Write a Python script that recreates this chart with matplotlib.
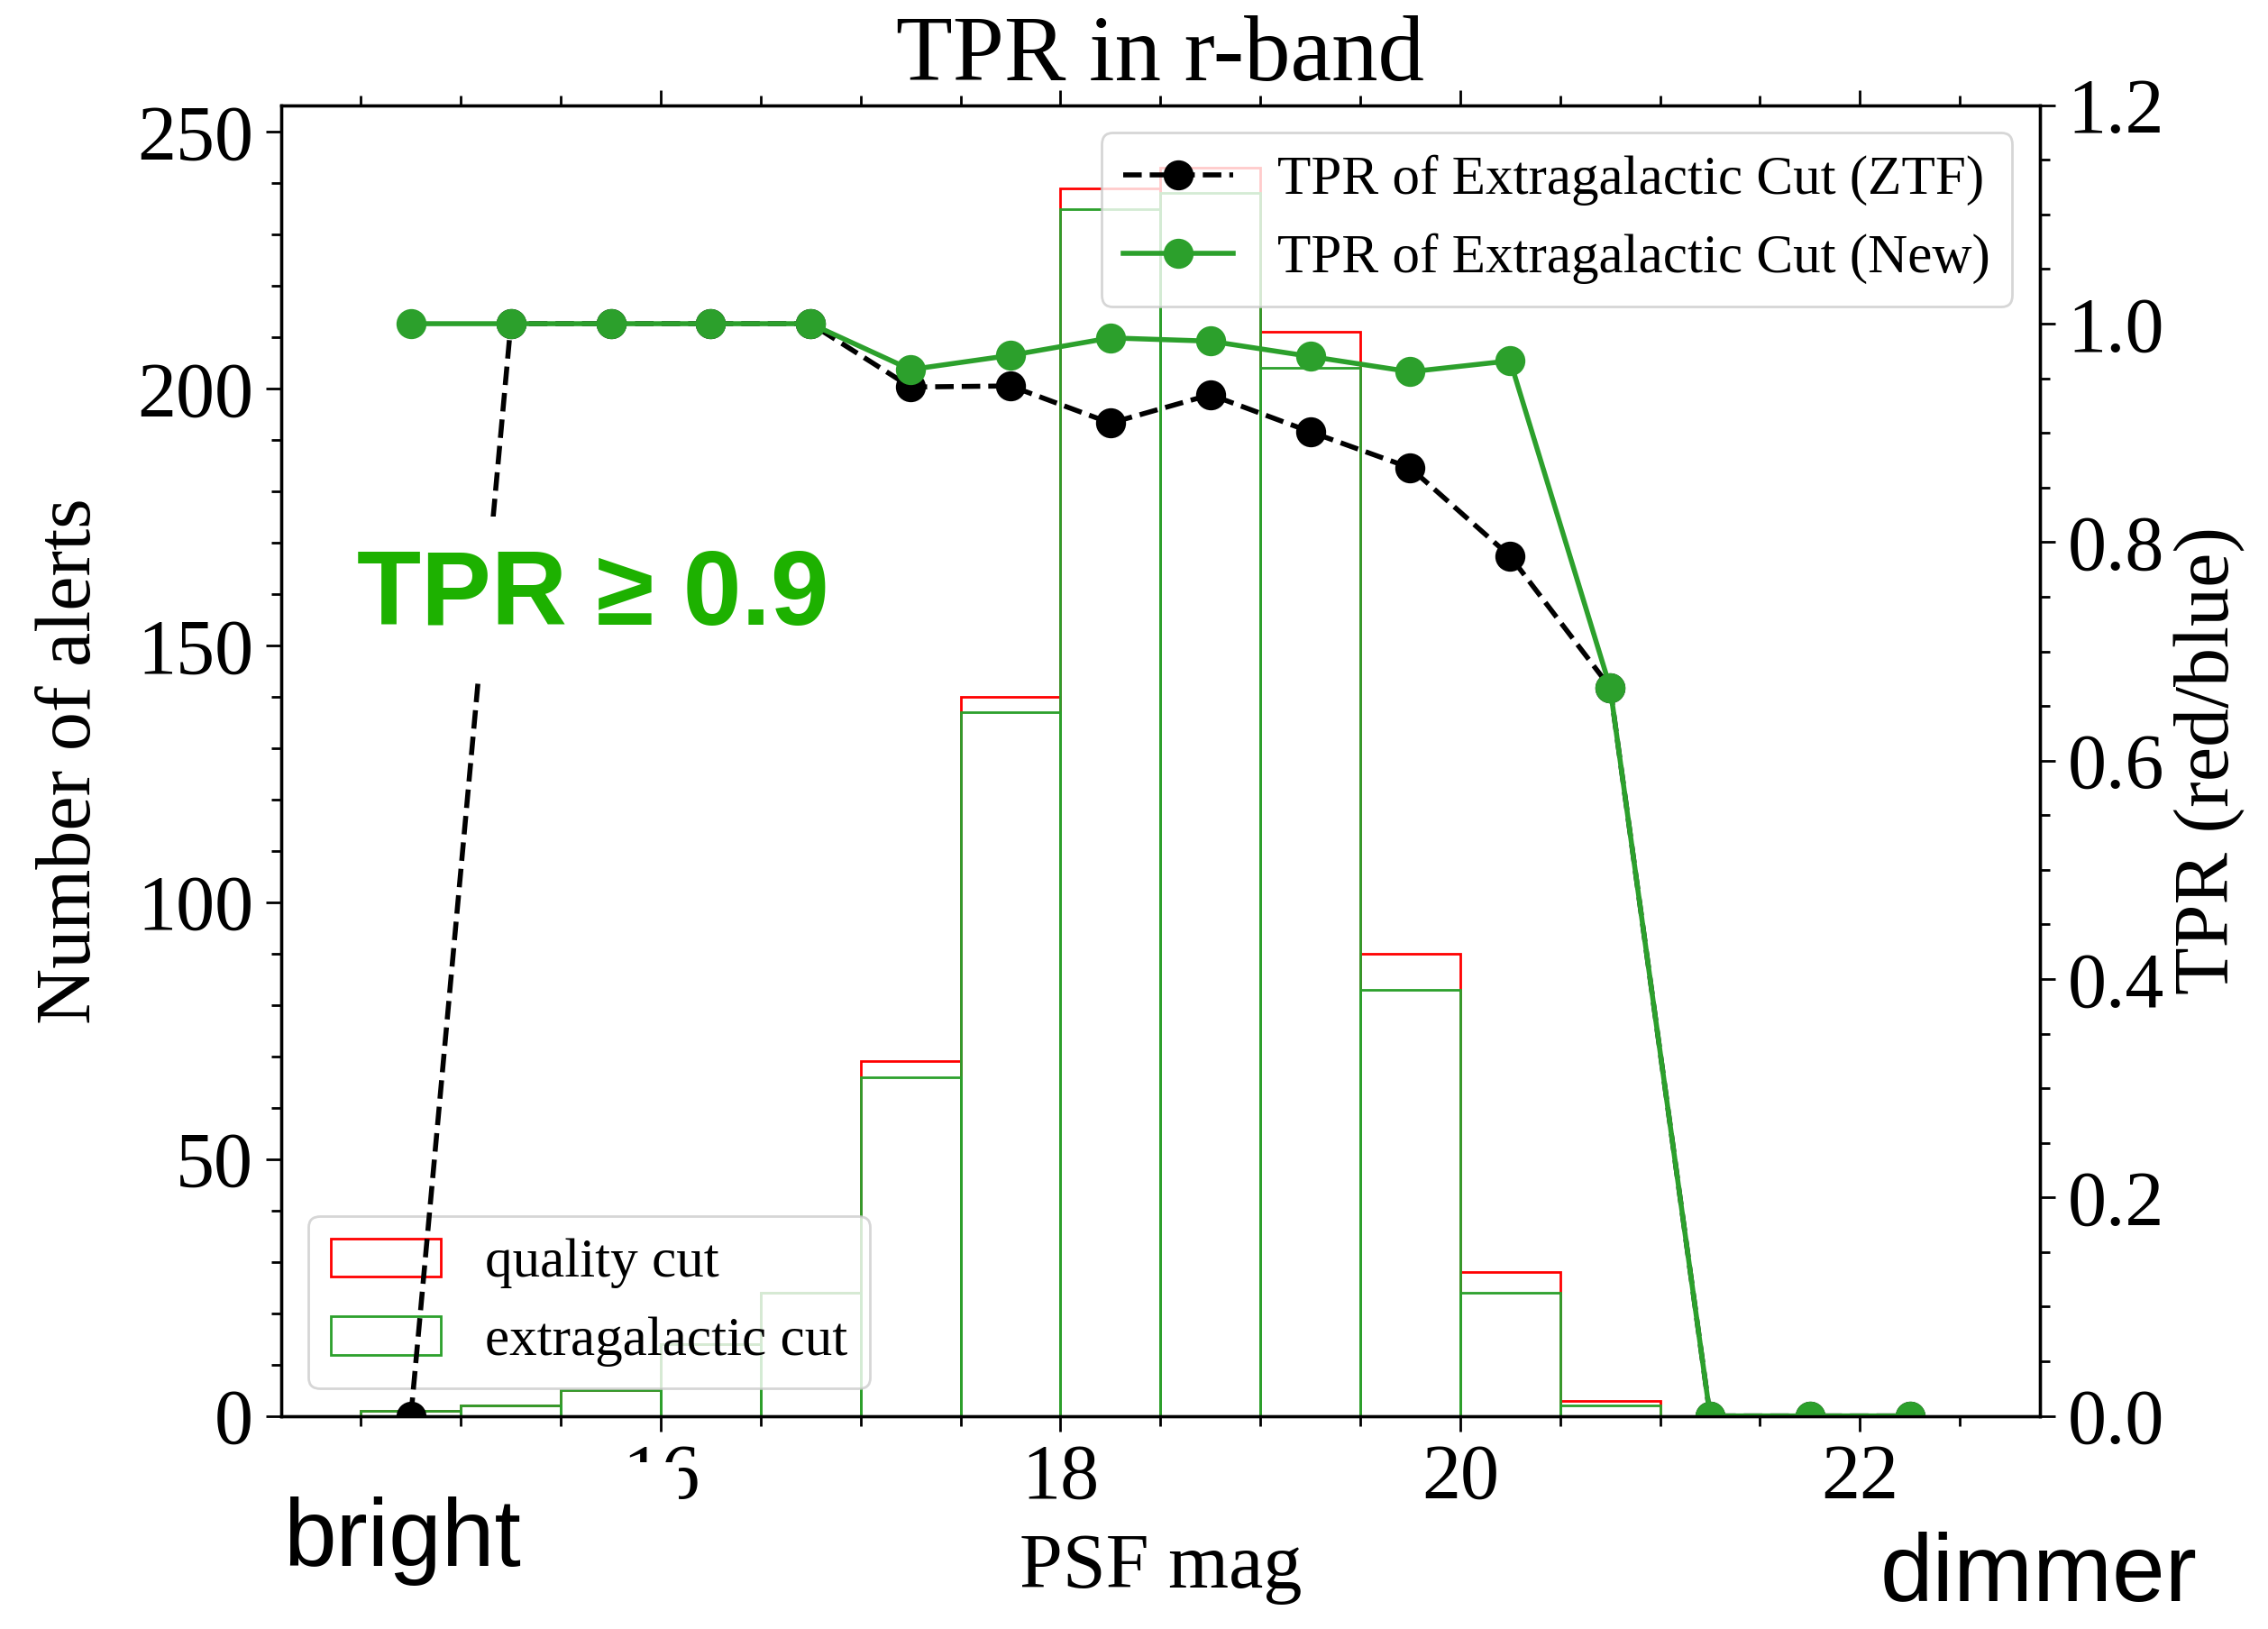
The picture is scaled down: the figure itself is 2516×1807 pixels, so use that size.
import matplotlib
matplotlib.use("Agg")
import matplotlib.pyplot as plt
from matplotlib.patches import Rectangle
from matplotlib.ticker import AutoMinorLocator

# -----------------------
# Data: r-band alerts per PSF magnitude bin
# -----------------------
mag_edges = [14.5, 15.0, 15.5, 16.0, 16.5, 17.0, 17.5, 18.0, 18.5,
             19.0, 19.5, 20.0, 20.5, 21.0, 21.5, 22.0, 22.5]
mag_centers = [14.75, 15.25, 15.75, 16.25, 16.75, 17.25, 17.75, 18.25,
               18.75, 19.25, 19.75, 20.25, 20.75, 21.25, 21.75, 22.25]

quality_counts = [1, 2, 5, 14, 24, 69, 140, 239, 243, 211, 90, 28, 3, 0, 0, 0]
extragal_counts = [1, 2, 5, 14, 24, 66, 137, 235, 238, 204, 83, 24, 2, 0, 0, 0]

tpr_ztf = [0.0, 1.0, 1.0, 1.0, 1.0, 0.942, 0.943, 0.909, 0.935, 0.901,
           0.868, 0.787, 0.667, 0.0, 0.0, 0.0]
tpr_new = [1.0, 1.0, 1.0, 1.0, 1.0, 0.958, 0.971, 0.987, 0.984, 0.970,
           0.956, 0.966, 0.667, 0.0, 0.0, 0.0]

# -----------------------
# Style
# -----------------------
plt.rcParams["font.family"] = "serif"
plt.rcParams["font.serif"] = ["Liberation Serif", "DejaVu Serif"]
plt.rcParams["axes.linewidth"] = 1.2

label_size = 31
legend_size = 22

fig = plt.figure(figsize=(12.58, 9.035), dpi=200)
ax1 = fig.add_axes([0.1239, 0.1308, 0.8994 - 0.1239, 0.9354 - 0.1308])

# -----------------------
# Histograms (left axis)
# -----------------------
ax1.hist(mag_centers, bins=mag_edges, weights=quality_counts, histtype="bar",
         fill=False, edgecolor="red", linewidth=1.0, label="quality cut")
ax1.hist(mag_centers, bins=mag_edges, weights=extragal_counts, histtype="bar",
         fill=False, edgecolor="tab:green", linewidth=1.0, label="extragalactic cut")

ax1.set_xlabel("PSF mag", fontsize=label_size, labelpad=7)
ax1.set_ylabel("Number of alerts", fontsize=label_size, labelpad=12)
ax1.set_title("TPR in r-band", fontsize=37, pad=10)
ax1.xaxis.set_minor_locator(AutoMinorLocator())
ax1.yaxis.set_minor_locator(AutoMinorLocator())
ax1.tick_params(which="both", direction="out", top=True, labelsize=label_size, width=1.0)
ax1.tick_params(which="major", length=6, pad=5)
ax1.tick_params(which="minor", length=4)
ax1.legend(loc="lower left", fontsize=legend_size)

# -----------------------
# TPR curves (right axis)
# -----------------------
ax2 = ax1.twinx()
ax2.plot(mag_centers, tpr_ztf, "k--o", linewidth=2.0, markersize=11,
         label="TPR of Extragalactic Cut (ZTF)")
ax2.plot(mag_centers, tpr_new, "-o", color="tab:green", linewidth=2.0, markersize=11,
         label="TPR of Extragalactic Cut (New)")
ax2.set_ylim(0, 1.2)
ax2.set_ylabel("TPR (red/blue)", fontsize=label_size)
ax2.yaxis.set_minor_locator(AutoMinorLocator())
ax2.tick_params(which="both", direction="out", labelsize=label_size, width=1.0)
ax2.tick_params(which="major", length=6, pad=5)
ax2.tick_params(which="minor", length=4)
ax2.legend(loc="upper right", fontsize=legend_size)

# -----------------------
# Annotations
# -----------------------
fig.text(0.1573, 0.6163, "TPR \u2265 0.9", fontsize=42, fontweight="bold",
         color="#1db100", family="Liberation Sans",
         bbox=dict(boxstyle="square,pad=0.3", facecolor="white", edgecolor="none"))

fig.add_artist(Rectangle((0.11, 0.02), 0.1893, 0.0824, transform=fig.transFigure,
                         facecolor="white", edgecolor="none", zorder=5))
fig.text(0.125, 0.0386, "bright", fontsize=38, family="Liberation Sans", zorder=6)
fig.text(0.829, 0.017, "dimmer", fontsize=38, family="Liberation Sans", zorder=6)

fig.savefig("out.png", dpi=200)
